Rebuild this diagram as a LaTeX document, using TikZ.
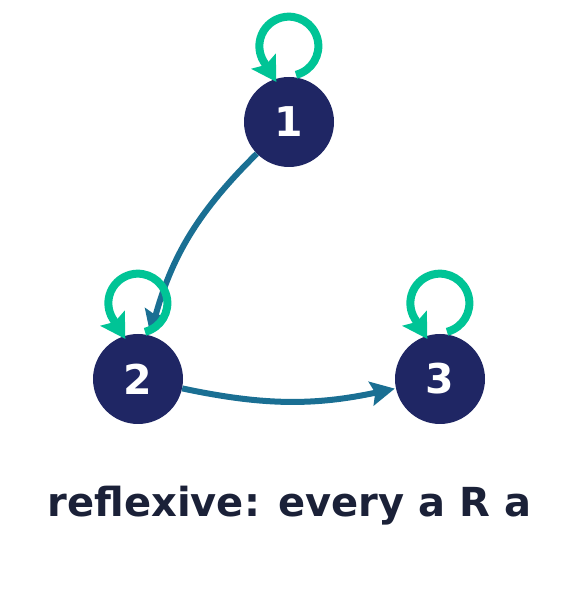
\documentclass[tikz,border=0pt]{standalone}
\usepackage{fontspec}
\setmainfont{DejaVu Sans}
\usetikzlibrary{arrows.meta}
\definecolor{navy}{RGB}{31,38,100}
\definecolor{loopteal}{RGB}{0,196,150}
\definecolor{edgeblue}{RGB}{26,111,147}
\definecolor{labeldark}{RGB}{27,33,56}
\tikzset{
  vertex/.style={circle, fill=navy, minimum size=90pt, inner sep=0pt, text=white, font=\bfseries\fontsize{41}{41}\selectfont},
  loopline/.style={loopteal, line width=8pt, -{Stealth[length=24pt,width=28pt,inset=4pt]}},
  edgeline/.style={edgeblue, line width=6pt, -{Stealth[length=24pt,width=24pt,inset=4pt]}, shorten >=1pt}
}
\begin{document}
\begin{tikzpicture}[x=1pt,y=1pt]
\useasboundingbox (0,0) rectangle (579,594);

% Nodes
\node[vertex] (n1) at (289,472) {1};
\node[vertex] (n2) at (138,215) {2};
\node[vertex] (n3) at (440,215) {3};

% Edges
\draw[edgeline] (n1) to[bend right=15] (n2);
\draw[edgeline] (n2) to[bend right=12] (n3);

% Loops
\foreach \v in {n1,n2,n3}{
  \draw[loopline] ([xshift=7pt,yshift=2pt]\v.north) arc[start angle=-76, end angle=210, radius=29.5pt] -- ++(13,-21);
}

% Label
\node[font=\bfseries\fontsize{40}{40}\selectfont, text=labeldark] (caption) at (289.5,88) {reflexive: every a R a};

\end{tikzpicture}
\end{document}
